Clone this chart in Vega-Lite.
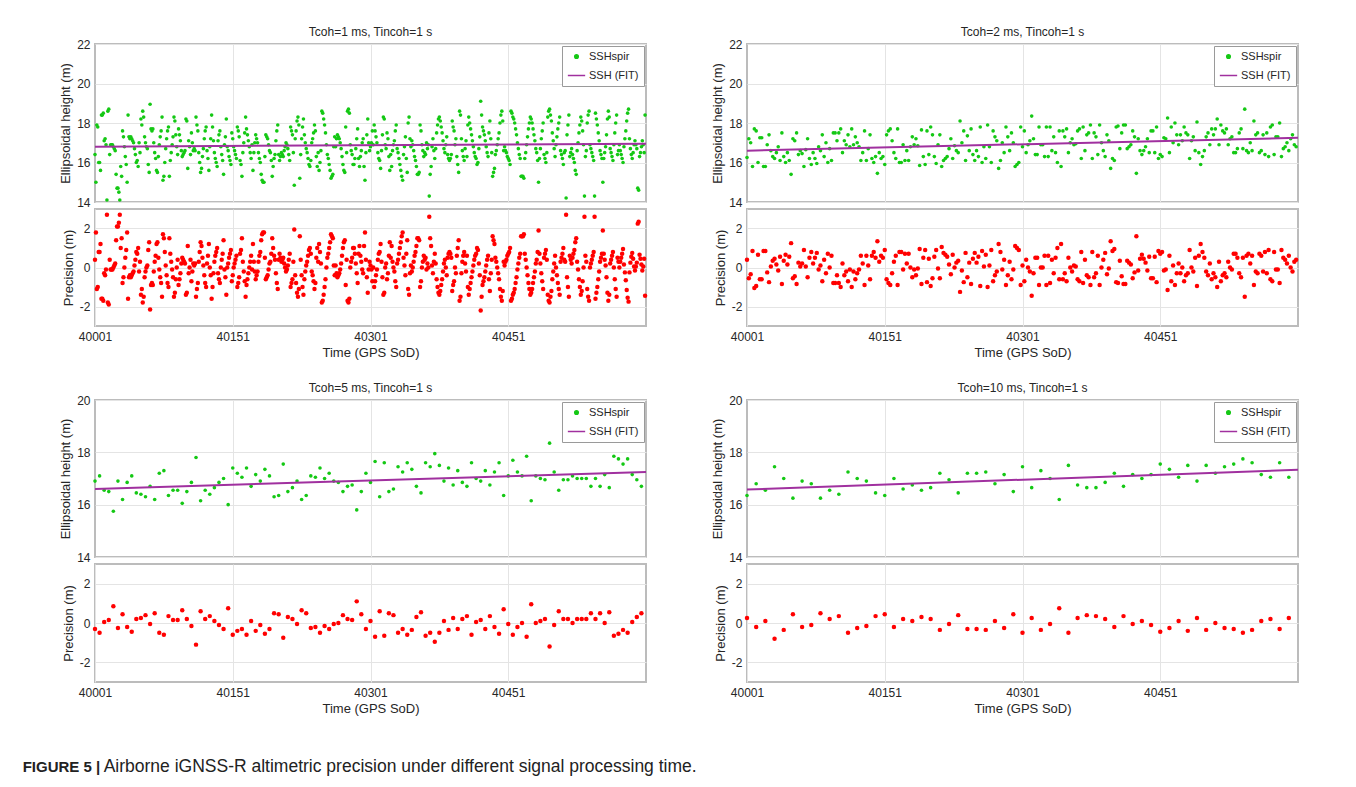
{
"$schema":"https://vega.github.io/schema/vega-lite/v6.json",
"background":"white",
"padding":{"left":22,"top":25,"right":5,"bottom":5},
"config":{
"font":"Liberation Sans",
"view":{"stroke":"#bcbcbc","strokeWidth":2},
"axis":{"labelFont":"Liberation Sans","labelFontSize":12,"labelColor":"#262626","titleFont":"Liberation Sans","titleFontSize":13,"titleFontWeight":"normal","titleColor":"#262626","gridColor":"#e4e4e4","gridWidth":1,"ticks":false,"tickSize":0,"domain":false,"labelPadding":5,"titlePadding":4,"labelFlush":false},
"title":{"font":"Liberation Sans","fontSize":12,"fontWeight":"normal","color":"#262626","offset":-1},
"legend":{"orient":"top-right","offset":2,"padding":5,"strokeColor":"#9a9a9a","fillColor":"#ffffff","labelFont":"Liberation Sans","labelFontSize":11,"labelColor":"#262626","rowPadding":4,"labelOffset":3,"symbolStrokeWidth":1.5}
},
"title":{"text":"FIGURE 5 |","orient":"bottom","anchor":"start","fontSize":15,"fontWeight":"bold","color":"#222222","offset":0,"dy":-15.5,"dx":-36},
"datasets":{
"f1":[{"t":40001,"h":16.8},{"t":40601,"h":16.95}],
"f2":[{"t":40001,"h":16.6},{"t":40601,"h":17.25}],
"f3":[{"t":40001,"h":16.6},{"t":40601,"h":17.25}],
"f4":[{"t":40001,"h":16.58},{"t":40601,"h":17.33}],
"p1":[
{"t":40001,"h":16.4,"p":0.4},{"t":40002,"h":15.0,"p":1.8},{"t":40003,"h":17.9,"p":-1.1},{"t":40004,"h":17.8,"p":-1.0},{"t":40005,"h":16.0,"p":0.8},{"t":40006,"h":16.0,"p":0.8},{"t":40007,"h":15.6,"p":1.2},{"t":40008,"h":18.4,"p":-1.6},{"t":40009,"h":18.4,"p":-1.6},{"t":40010,"h":18.5,"p":-1.7},{"t":40011,"h":17.1,"p":-0.3},{"t":40012,"h":17.2,"p":-0.4},{"t":40013,"h":16.9,"p":-0.1},{"t":40014,"h":14.1,"p":2.7},{"t":40015,"h":18.6,"p":-1.8},{"t":40016,"h":18.7,"p":-1.9},{"t":40017,"h":16.4,"p":0.4},{"t":40018,"h":16.9,"p":-0.1},{"t":40019,"h":16.9,"p":-0.1},{"t":40020,"h":16.9,"p":-0.1},{"t":40021,"h":16.8,"p":0.0},{"t":40022,"h":16.7,"p":0.1},{"t":40023,"h":16.6,"p":0.2},{"t":40024,"h":15.4,"p":1.4},{"t":40025,"h":14.7,"p":2.1},
{"t":40026,"h":14.7,"p":2.1},{"t":40027,"h":14.5,"p":2.3},{"t":40028,"h":14.1,"p":2.7},{"t":40029,"h":15.8,"p":1.0},{"t":40030,"h":15.3,"p":1.5},{"t":40031,"h":17.6,"p":-0.8},{"t":40032,"h":17.3,"p":-0.5},{"t":40033,"h":16.8,"p":0.0},{"t":40034,"h":16.3,"p":0.5},{"t":40035,"h":15.9,"p":0.9},{"t":40036,"h":15.0,"p":1.8},{"t":40037,"h":18.4,"p":-1.6},{"t":40038,"h":17.3,"p":-0.5},{"t":40039,"h":17.2,"p":-0.4},{"t":40040,"h":17.3,"p":-0.5},{"t":40041,"h":17.2,"p":-0.4},{"t":40042,"h":17.1,"p":-0.3},{"t":40043,"h":17.0,"p":-0.2},{"t":40044,"h":16.7,"p":0.1},{"t":40045,"h":16.4,"p":0.4},{"t":40046,"h":16.0,"p":0.8},{"t":40047,"h":16.1,"p":0.7},{"t":40048,"h":15.8,"p":1.0},{"t":40049,"h":17.0,"p":-0.2},{"t":40050,"h":16.5,"p":0.3},
{"t":40051,"h":18.2,"p":-1.4},{"t":40052,"h":17.9,"p":-1.1},{"t":40053,"h":18.6,"p":-1.8},{"t":40054,"h":18.3,"p":-1.5},{"t":40055,"h":17.3,"p":-0.5},{"t":40056,"h":17.0,"p":-0.2},{"t":40057,"h":16.8,"p":0.0},{"t":40058,"h":16.7,"p":0.1},{"t":40059,"h":15.9,"p":0.9},{"t":40060,"h":15.5,"p":1.3},{"t":40061,"h":18.95,"p":-2.15},{"t":40062,"h":17.7,"p":-0.9},{"t":40063,"h":17.6,"p":-0.8},{"t":40064,"h":17.7,"p":-0.9},{"t":40065,"h":17.0,"p":-0.2},{"t":40066,"h":16.5,"p":0.3},{"t":40067,"h":16.2,"p":0.6},{"t":40068,"h":15.6,"p":1.2},{"t":40069,"h":15.5,"p":1.3},{"t":40070,"h":16.3,"p":0.5},{"t":40071,"h":16.9,"p":-0.1},{"t":40072,"h":17.3,"p":-0.5},{"t":40073,"h":17.6,"p":-0.8},{"t":40074,"h":18.3,"p":-1.5},{"t":40075,"h":15.1,"p":1.7},
{"t":40076,"h":15.3,"p":1.5},{"t":40077,"h":16.0,"p":0.8},{"t":40078,"h":16.7,"p":0.1},{"t":40079,"h":17.2,"p":-0.4},{"t":40080,"h":17.6,"p":-0.8},{"t":40081,"h":17.8,"p":-1.0},{"t":40082,"h":15.3,"p":1.5},{"t":40083,"h":16.1,"p":0.7},{"t":40084,"h":16.5,"p":0.3},{"t":40085,"h":16.9,"p":-0.1},{"t":40086,"h":17.3,"p":-0.5},{"t":40087,"h":18.3,"p":-1.5},{"t":40088,"h":18.1,"p":-1.3},{"t":40089,"h":17.4,"p":-0.6},{"t":40090,"h":16.8,"p":0.0},{"t":40091,"h":16.4,"p":0.4},{"t":40092,"h":17.7,"p":-0.9},{"t":40093,"h":17.4,"p":-0.6},{"t":40094,"h":17.1,"p":-0.3},{"t":40095,"h":16.6,"p":0.2},{"t":40096,"h":16.3,"p":0.5},{"t":40097,"h":16.4,"p":0.4},{"t":40098,"h":16.5,"p":0.3},{"t":40099,"h":16.6,"p":0.2},{"t":40100,"h":18.2,"p":-1.4},
{"t":40101,"h":18.1,"p":-1.3},{"t":40102,"h":15.7,"p":1.1},{"t":40103,"h":17.1,"p":-0.3},{"t":40104,"h":16.8,"p":0.0},{"t":40105,"h":16.4,"p":0.4},{"t":40106,"h":17.5,"p":-0.7},{"t":40107,"h":17.0,"p":-0.2},{"t":40108,"h":16.6,"p":0.2},{"t":40109,"h":16.7,"p":0.1},{"t":40110,"h":16.6,"p":0.2},{"t":40111,"h":18.3,"p":-1.5},{"t":40112,"h":17.9,"p":-1.1},{"t":40113,"h":17.6,"p":-0.8},{"t":40114,"h":16.5,"p":0.3},{"t":40115,"h":16.0,"p":0.8},{"t":40116,"h":15.5,"p":1.3},{"t":40117,"h":15.7,"p":1.1},{"t":40118,"h":16.3,"p":0.5},{"t":40119,"h":16.7,"p":0.1},{"t":40120,"h":17.2,"p":-0.4},{"t":40121,"h":17.6,"p":-0.8},{"t":40122,"h":17.8,"p":-1.0},{"t":40123,"h":16.6,"p":0.2},{"t":40124,"h":16.2,"p":0.6},{"t":40125,"h":15.6,"p":1.2},
{"t":40126,"h":16.8,"p":0.0},{"t":40127,"h":17.2,"p":-0.4},{"t":40128,"h":18.4,"p":-1.6},{"t":40129,"h":17.8,"p":-1.0},{"t":40130,"h":17.1,"p":-0.3},{"t":40131,"h":16.5,"p":0.3},{"t":40132,"h":16.2,"p":0.6},{"t":40133,"h":16.0,"p":0.8},{"t":40134,"h":15.8,"p":1.0},{"t":40135,"h":17.1,"p":-0.3},{"t":40136,"h":17.4,"p":-0.6},{"t":40137,"h":17.6,"p":-0.8},{"t":40138,"h":16.8,"p":0.0},{"t":40139,"h":16.4,"p":0.4},{"t":40140,"h":16.1,"p":0.7},{"t":40141,"h":15.4,"p":1.4},{"t":40142,"h":16.9,"p":-0.1},{"t":40143,"h":17.3,"p":-0.5},{"t":40144,"h":18.2,"p":-1.4},{"t":40145,"h":16.8,"p":0.0},{"t":40146,"h":16.6,"p":0.2},{"t":40147,"h":16.3,"p":0.5},{"t":40148,"h":16.1,"p":0.7},{"t":40149,"h":15.9,"p":0.9},{"t":40150,"h":17.5,"p":-0.7},
{"t":40151,"h":17.2,"p":-0.4},{"t":40152,"h":16.8,"p":0.0},{"t":40153,"h":16.6,"p":0.2},{"t":40154,"h":16.4,"p":0.4},{"t":40155,"h":16.2,"p":0.6},{"t":40156,"h":17.8,"p":-1.0},{"t":40157,"h":17.6,"p":-0.8},{"t":40158,"h":17.3,"p":-0.5},{"t":40159,"h":16.1,"p":0.7},{"t":40160,"h":15.9,"p":0.9},{"t":40161,"h":15.3,"p":1.5},{"t":40162,"h":16.5,"p":0.3},{"t":40163,"h":17.0,"p":-0.2},{"t":40164,"h":17.5,"p":-0.7},{"t":40165,"h":18.3,"p":-1.5},{"t":40166,"h":17.7,"p":-0.9},{"t":40167,"h":17.4,"p":-0.6},{"t":40168,"h":17.1,"p":-0.3},{"t":40169,"h":16.8,"p":0.0},{"t":40170,"h":16.5,"p":0.3},{"t":40171,"h":16.2,"p":0.6},{"t":40172,"h":16.9,"p":-0.1},{"t":40173,"h":15.6,"p":1.2},{"t":40174,"h":16.5,"p":0.3},{"t":40175,"h":17.0,"p":-0.2},
{"t":40176,"h":17.4,"p":-0.6},{"t":40177,"h":17.2,"p":-0.4},{"t":40178,"h":17.0,"p":-0.2},{"t":40179,"h":16.5,"p":0.3},{"t":40180,"h":16.2,"p":0.6},{"t":40181,"h":16.0,"p":0.8},{"t":40182,"h":15.4,"p":1.4},{"t":40183,"h":15.1,"p":1.7},{"t":40184,"h":15.0,"p":1.8},{"t":40185,"h":15.0,"p":1.8},{"t":40186,"h":16.3,"p":0.5},{"t":40187,"h":17.4,"p":-0.6},{"t":40188,"h":17.3,"p":-0.5},{"t":40189,"h":17.2,"p":-0.4},{"t":40190,"h":16.9,"p":-0.1},{"t":40191,"h":16.6,"p":0.2},{"t":40192,"h":16.5,"p":0.3},{"t":40193,"h":16.1,"p":0.7},{"t":40194,"h":15.3,"p":1.5},{"t":40195,"h":15.8,"p":1.0},{"t":40196,"h":16.2,"p":0.6},{"t":40197,"h":16.4,"p":0.4},{"t":40198,"h":17.1,"p":-0.3},{"t":40199,"h":17.6,"p":-0.8},{"t":40200,"h":17.9,"p":-1.1},
{"t":40201,"h":16.4,"p":0.4},{"t":40202,"h":16.1,"p":0.7},{"t":40203,"h":16.3,"p":0.5},{"t":40204,"h":16.5,"p":0.3},{"t":40205,"h":16.4,"p":0.4},{"t":40206,"h":16.3,"p":0.5},{"t":40207,"h":16.6,"p":0.2},{"t":40208,"h":16.8,"p":0.0},{"t":40209,"h":17.0,"p":-0.2},{"t":40210,"h":16.9,"p":-0.1},{"t":40211,"h":16.7,"p":0.1},{"t":40212,"h":16.4,"p":0.4},{"t":40213,"h":16.1,"p":0.7},{"t":40214,"h":17.8,"p":-1.0},{"t":40215,"h":17.6,"p":-0.8},{"t":40216,"h":17.4,"p":-0.6},{"t":40217,"h":16.5,"p":0.3},{"t":40218,"h":14.85,"p":1.95},{"t":40219,"h":17.2,"p":-0.4},{"t":40220,"h":17.6,"p":-0.8},{"t":40221,"h":18.1,"p":-1.3},{"t":40222,"h":18.3,"p":-1.5},{"t":40223,"h":17.9,"p":-1.1},{"t":40224,"h":15.2,"p":1.6},{"t":40225,"h":16.4,"p":0.4},
{"t":40226,"h":17.2,"p":-0.4},{"t":40227,"h":17.8,"p":-1.0},{"t":40228,"h":18.2,"p":-1.4},{"t":40229,"h":17.4,"p":-0.6},{"t":40230,"h":17.0,"p":-0.2},{"t":40231,"h":16.7,"p":0.1},{"t":40232,"h":16.5,"p":0.3},{"t":40233,"h":16.2,"p":0.6},{"t":40234,"h":15.9,"p":0.9},{"t":40235,"h":15.8,"p":1.0},{"t":40236,"h":16.1,"p":0.7},{"t":40237,"h":17.0,"p":-0.2},{"t":40238,"h":17.2,"p":-0.4},{"t":40239,"h":17.5,"p":-0.7},{"t":40240,"h":17.9,"p":-1.1},{"t":40241,"h":17.6,"p":-0.8},{"t":40242,"h":16.3,"p":0.5},{"t":40243,"h":15.8,"p":1.0},{"t":40244,"h":16.5,"p":0.3},{"t":40245,"h":15.6,"p":1.2},{"t":40246,"h":16.0,"p":0.8},{"t":40247,"h":16.6,"p":0.2},{"t":40248,"h":18.6,"p":-1.8},{"t":40249,"h":18.5,"p":-1.7},{"t":40250,"h":18.2,"p":-1.4},
{"t":40251,"h":17.9,"p":-1.0},{"t":40252,"h":17.5,"p":-0.6},{"t":40253,"h":16.9,"p":0.0},{"t":40254,"h":16.4,"p":0.5},{"t":40255,"h":16.2,"p":0.7},{"t":40256,"h":15.9,"p":1.0},{"t":40257,"h":15.6,"p":1.3},{"t":40258,"h":15.2,"p":1.7},{"t":40259,"h":15.3,"p":1.6},{"t":40260,"h":15.4,"p":1.5},{"t":40261,"h":16.8,"p":0.1},{"t":40262,"h":17.3,"p":-0.4},{"t":40263,"h":16.8,"p":0.1},{"t":40264,"h":17.2,"p":-0.3},{"t":40265,"h":17.4,"p":-0.5},{"t":40266,"h":17.3,"p":-0.4},{"t":40267,"h":17.2,"p":-0.3},{"t":40268,"h":17.0,"p":-0.1},{"t":40269,"h":16.7,"p":0.2},{"t":40270,"h":16.3,"p":0.6},{"t":40271,"h":15.9,"p":1.0},{"t":40272,"h":15.6,"p":1.3},{"t":40273,"h":15.5,"p":1.4},{"t":40274,"h":17.8,"p":-0.9},{"t":40275,"h":16.5,"p":0.4},
{"t":40276,"h":18.6,"p":-1.7},{"t":40277,"h":18.7,"p":-1.8},{"t":40278,"h":18.5,"p":-1.6},{"t":40279,"h":16.9,"p":0.0},{"t":40280,"h":16.6,"p":0.3},{"t":40281,"h":16.4,"p":0.5},{"t":40282,"h":15.9,"p":1.0},{"t":40283,"h":15.9,"p":1.0},{"t":40284,"h":16.2,"p":0.7},{"t":40285,"h":16.7,"p":0.2},{"t":40286,"h":17.2,"p":-0.3},{"t":40287,"h":17.7,"p":-0.8},{"t":40288,"h":16.2,"p":0.7},{"t":40289,"h":15.8,"p":1.1},{"t":40290,"h":16.3,"p":0.6},{"t":40291,"h":16.6,"p":0.3},{"t":40292,"h":17.0,"p":-0.1},{"t":40293,"h":17.2,"p":-0.3},{"t":40294,"h":15.8,"p":1.1},{"t":40295,"h":15.1,"p":1.8},{"t":40296,"h":16.5,"p":0.4},{"t":40297,"h":17.4,"p":-0.5},{"t":40298,"h":18.2,"p":-1.3},{"t":40299,"h":17.0,"p":-0.1},{"t":40300,"h":16.6,"p":0.3},
{"t":40301,"h":16.8,"p":0.1},{"t":40302,"h":17.0,"p":-0.1},{"t":40303,"h":17.6,"p":-0.7},{"t":40304,"h":16.9,"p":0.0},{"t":40305,"h":17.9,"p":-1.0},{"t":40306,"h":17.6,"p":-0.7},{"t":40307,"h":17.3,"p":-0.4},{"t":40308,"h":17.0,"p":-0.1},{"t":40309,"h":16.5,"p":0.4},{"t":40310,"h":16.2,"p":0.7},{"t":40311,"h":16.1,"p":0.8},{"t":40312,"h":15.7,"p":1.2},{"t":40313,"h":16.6,"p":0.3},{"t":40314,"h":17.4,"p":-0.5},{"t":40315,"h":18.3,"p":-1.4},{"t":40316,"h":18.2,"p":-1.3},{"t":40317,"h":16.9,"p":0.0},{"t":40318,"h":16.7,"p":0.2},{"t":40319,"h":17.5,"p":-0.6},{"t":40320,"h":17.2,"p":-0.3},{"t":40321,"h":16.3,"p":0.6},{"t":40322,"h":15.6,"p":1.3},{"t":40323,"h":16.4,"p":0.5},{"t":40324,"h":15.8,"p":1.1},{"t":40325,"h":16.6,"p":0.3},
{"t":40326,"h":16.9,"p":0.0},{"t":40327,"h":17.1,"p":-0.2},{"t":40328,"h":17.6,"p":-0.7},{"t":40329,"h":17.9,"p":-1.0},{"t":40330,"h":16.7,"p":0.2},{"t":40331,"h":16.5,"p":0.4},{"t":40332,"h":16.2,"p":0.7},{"t":40333,"h":15.9,"p":1.0},{"t":40334,"h":15.6,"p":1.3},{"t":40335,"h":15.3,"p":1.6},{"t":40336,"h":15.1,"p":1.8},{"t":40337,"h":16.4,"p":0.5},{"t":40338,"h":16.8,"p":0.1},{"t":40339,"h":17.3,"p":-0.4},{"t":40340,"h":16.2,"p":0.7},{"t":40341,"h":15.5,"p":1.4},{"t":40342,"h":18.0,"p":-1.1},{"t":40343,"h":18.3,"p":-1.4},{"t":40344,"h":17.2,"p":-0.3},{"t":40345,"h":16.8,"p":0.1},{"t":40346,"h":17.1,"p":-0.2},{"t":40347,"h":16.9,"p":0.0},{"t":40348,"h":16.6,"p":0.3},{"t":40349,"h":16.3,"p":0.6},{"t":40350,"h":16.1,"p":0.8},
{"t":40351,"h":15.8,"p":1.1},{"t":40352,"h":15.4,"p":1.5},{"t":40353,"h":15.4,"p":1.5},{"t":40354,"h":15.5,"p":1.4},{"t":40355,"h":17.9,"p":-1.0},{"t":40356,"h":17.6,"p":-0.7},{"t":40357,"h":16.9,"p":0.0},{"t":40358,"h":16.6,"p":0.3},{"t":40359,"h":16.3,"p":0.6},{"t":40360,"h":16.5,"p":0.4},{"t":40361,"h":16.4,"p":0.5},{"t":40362,"h":17.0,"p":-0.1},{"t":40363,"h":16.7,"p":0.2},{"t":40364,"h":16.9,"p":0.0},{"t":40365,"h":14.3,"p":2.6},{"t":40366,"h":15.4,"p":1.5},{"t":40367,"h":15.8,"p":1.1},{"t":40368,"h":16.8,"p":0.1},{"t":40369,"h":17.2,"p":-0.3},{"t":40370,"h":16.6,"p":0.3},{"t":40371,"h":16.2,"p":0.7},{"t":40372,"h":16.7,"p":0.2},{"t":40373,"h":17.5,"p":-0.6},{"t":40374,"h":17.9,"p":-1.0},{"t":40375,"h":18.2,"p":-1.3},
{"t":40376,"h":18.3,"p":-1.4},{"t":40377,"h":18.1,"p":-1.2},{"t":40378,"h":17.8,"p":-0.9},{"t":40379,"h":17.5,"p":-0.6},{"t":40380,"h":17.1,"p":-0.2},{"t":40381,"h":16.7,"p":0.2},{"t":40382,"h":16.5,"p":0.4},{"t":40383,"h":16.9,"p":0.0},{"t":40384,"h":17.3,"p":-0.4},{"t":40385,"h":16.4,"p":0.5},{"t":40386,"h":16.2,"p":0.7},{"t":40387,"h":16.1,"p":0.8},{"t":40388,"h":16.2,"p":0.7},{"t":40389,"h":16.4,"p":0.5},{"t":40390,"h":18.1,"p":-1.2},{"t":40391,"h":17.8,"p":-0.9},{"t":40392,"h":17.6,"p":-0.7},{"t":40393,"h":16.9,"p":0.0},{"t":40394,"h":17.2,"p":-0.3},{"t":40395,"h":16.3,"p":0.6},{"t":40396,"h":15.9,"p":1.0},{"t":40397,"h":15.5,"p":1.4},{"t":40398,"h":18.6,"p":-1.7},{"t":40399,"h":18.4,"p":-1.5},{"t":40400,"h":17.2,"p":-0.3},
{"t":40401,"h":16.6,"p":0.3},{"t":40402,"h":16.3,"p":0.6},{"t":40403,"h":16.1,"p":0.8},{"t":40404,"h":16.7,"p":0.2},{"t":40405,"h":17.1,"p":-0.2},{"t":40406,"h":16.3,"p":0.6},{"t":40407,"h":17.9,"p":-1.0},{"t":40408,"h":18.3,"p":-1.4},{"t":40409,"h":18.0,"p":-1.1},{"t":40410,"h":17.7,"p":-0.8},{"t":40411,"h":17.4,"p":-0.5},{"t":40412,"h":17.1,"p":-0.2},{"t":40413,"h":16.8,"p":0.1},{"t":40414,"h":16.5,"p":0.4},{"t":40415,"h":16.3,"p":0.6},{"t":40416,"h":16.2,"p":0.7},{"t":40417,"h":15.9,"p":1.0},{"t":40418,"h":16.0,"p":0.9},{"t":40419,"h":16.7,"p":0.2},{"t":40420,"h":17.3,"p":-0.4},{"t":40421,"h":19.1,"p":-2.2},{"t":40422,"h":18.4,"p":-1.5},{"t":40423,"h":17.8,"p":-0.9},{"t":40424,"h":17.6,"p":-0.7},{"t":40425,"h":17.4,"p":-0.5},
{"t":40426,"h":17.1,"p":-0.2},{"t":40427,"h":16.8,"p":0.1},{"t":40428,"h":16.5,"p":0.4},{"t":40429,"h":16.3,"p":0.6},{"t":40430,"h":17.5,"p":-0.6},{"t":40431,"h":18.1,"p":-1.2},{"t":40432,"h":17.2,"p":-0.3},{"t":40433,"h":16.5,"p":0.4},{"t":40434,"h":15.3,"p":1.6},{"t":40435,"h":15.5,"p":1.4},{"t":40436,"h":15.7,"p":1.2},{"t":40437,"h":16.4,"p":0.5},{"t":40438,"h":16.6,"p":0.3},{"t":40439,"h":16.9,"p":0.0},{"t":40440,"h":17.2,"p":-0.3},{"t":40441,"h":17.5,"p":-0.6},{"t":40442,"h":18.0,"p":-1.1},{"t":40443,"h":18.4,"p":-1.5},{"t":40444,"h":18.6,"p":-1.7},{"t":40445,"h":18.1,"p":-1.2},{"t":40446,"h":16.6,"p":0.3},{"t":40447,"h":16.8,"p":0.1},{"t":40448,"h":16.6,"p":0.3},{"t":40449,"h":16.5,"p":0.4},{"t":40450,"h":16.3,"p":0.6},
{"t":40451,"h":16.2,"p":0.7},{"t":40452,"h":16.1,"p":0.8},{"t":40453,"h":15.9,"p":1.0},{"t":40454,"h":18.6,"p":-1.7},{"t":40455,"h":18.5,"p":-1.6},{"t":40456,"h":18.3,"p":-1.4},{"t":40457,"h":18.2,"p":-1.3},{"t":40458,"h":18.0,"p":-1.1},{"t":40459,"h":17.7,"p":-0.8},{"t":40460,"h":17.4,"p":-0.5},{"t":40461,"h":17.0,"p":-0.1},{"t":40462,"h":16.7,"p":0.2},{"t":40463,"h":16.4,"p":0.5},{"t":40464,"h":16.2,"p":0.7},{"t":40465,"h":15.3,"p":1.6},{"t":40466,"h":15.3,"p":1.6},{"t":40467,"h":15.3,"p":1.6},{"t":40468,"h":15.2,"p":1.7},{"t":40469,"h":16.2,"p":0.7},{"t":40470,"h":16.5,"p":0.4},{"t":40471,"h":16.9,"p":0.0},{"t":40472,"h":17.3,"p":-0.4},{"t":40473,"h":17.7,"p":-0.8},{"t":40474,"h":18.0,"p":-1.1},{"t":40475,"h":18.3,"p":-1.4},
{"t":40476,"h":18.2,"p":-1.3},{"t":40477,"h":18.0,"p":-1.1},{"t":40478,"h":17.7,"p":-0.8},{"t":40479,"h":17.4,"p":-0.5},{"t":40480,"h":17.1,"p":-0.2},{"t":40481,"h":16.7,"p":0.2},{"t":40482,"h":16.5,"p":0.4},{"t":40483,"h":16.1,"p":0.8},{"t":40484,"h":15.0,"p":1.9},{"t":40485,"h":16.2,"p":0.7},{"t":40486,"h":16.7,"p":0.2},{"t":40487,"h":17.2,"p":-0.3},{"t":40488,"h":17.6,"p":-0.7},{"t":40489,"h":18.0,"p":-1.1},{"t":40490,"h":16.4,"p":0.5},{"t":40491,"h":16.2,"p":0.7},{"t":40492,"h":16.0,"p":0.9},{"t":40493,"h":16.5,"p":0.4},{"t":40494,"h":18.3,"p":-1.4},{"t":40495,"h":18.6,"p":-1.7},{"t":40496,"h":18.7,"p":-1.8},{"t":40497,"h":18.4,"p":-1.5},{"t":40498,"h":18.1,"p":-1.2},{"t":40499,"h":17.5,"p":-0.6},{"t":40500,"h":17.1,"p":-0.2},
{"t":40501,"h":16.7,"p":0.2},{"t":40502,"h":16.3,"p":0.6},{"t":40503,"h":16.9,"p":0.0},{"t":40504,"h":17.3,"p":-0.4},{"t":40505,"h":17.7,"p":-0.8},{"t":40506,"h":18.0,"p":-1.1},{"t":40507,"h":18.3,"p":-1.4},{"t":40508,"h":16.6,"p":0.3},{"t":40509,"h":16.4,"p":0.5},{"t":40510,"h":16.2,"p":0.7},{"t":40511,"h":15.9,"p":1.0},{"t":40512,"h":16.5,"p":0.4},{"t":40513,"h":16.6,"p":0.3},{"t":40514,"h":14.2,"p":2.7},{"t":40515,"h":17.4,"p":-0.5},{"t":40516,"h":17.9,"p":-1.0},{"t":40517,"h":18.4,"p":-1.5},{"t":40518,"h":16.3,"p":0.6},{"t":40519,"h":16.5,"p":0.4},{"t":40520,"h":16.7,"p":0.2},{"t":40521,"h":16.4,"p":0.5},{"t":40522,"h":16.2,"p":0.7},{"t":40523,"h":16.0,"p":0.9},{"t":40524,"h":15.6,"p":1.3},{"t":40525,"h":15.4,"p":1.5},
{"t":40526,"h":16.6,"p":0.3},{"t":40527,"h":17.0,"p":-0.1},{"t":40528,"h":17.5,"p":-0.6},{"t":40529,"h":17.9,"p":-1.0},{"t":40530,"h":18.3,"p":-1.4},{"t":40531,"h":18.1,"p":-1.2},{"t":40532,"h":17.6,"p":-0.7},{"t":40533,"h":16.9,"p":0.0},{"t":40534,"h":14.3,"p":2.6},{"t":40535,"h":16.3,"p":0.6},{"t":40536,"h":16.6,"p":0.3},{"t":40537,"h":18.0,"p":-1.1},{"t":40538,"h":18.4,"p":-1.5},{"t":40539,"h":18.6,"p":-1.7},{"t":40540,"h":16.9,"p":0.0},{"t":40541,"h":16.7,"p":0.2},{"t":40542,"h":16.5,"p":0.4},{"t":40543,"h":16.3,"p":0.6},{"t":40544,"h":16.1,"p":0.8},{"t":40545,"h":14.3,"p":2.6},{"t":40546,"h":18.5,"p":-1.6},{"t":40547,"h":18.2,"p":-1.3},{"t":40548,"h":17.9,"p":-1.0},{"t":40549,"h":17.5,"p":-0.6},{"t":40550,"h":17.1,"p":-0.2},
{"t":40551,"h":16.6,"p":0.3},{"t":40552,"h":16.4,"p":0.5},{"t":40553,"h":16.2,"p":0.7},{"t":40554,"h":15.0,"p":1.9},{"t":40555,"h":16.2,"p":0.7},{"t":40556,"h":16.5,"p":0.4},{"t":40557,"h":16.8,"p":0.1},{"t":40558,"h":17.4,"p":-0.5},{"t":40559,"h":18.2,"p":-1.3},{"t":40560,"h":18.6,"p":-1.7},{"t":40561,"h":18.3,"p":-1.4},{"t":40562,"h":16.7,"p":0.2},{"t":40563,"h":16.5,"p":0.4},{"t":40564,"h":16.3,"p":0.6},{"t":40565,"h":16.1,"p":0.8},{"t":40566,"h":16.9,"p":0.0},{"t":40567,"h":17.5,"p":-0.6},{"t":40568,"h":18.0,"p":-1.1},{"t":40569,"h":18.4,"p":-1.5},{"t":40570,"h":16.4,"p":0.5},{"t":40571,"h":16.6,"p":0.3},{"t":40572,"h":16.9,"p":0.0},{"t":40573,"h":16.6,"p":0.3},{"t":40574,"h":16.4,"p":0.5},{"t":40575,"h":16.2,"p":0.7},
{"t":40576,"h":16.0,"p":0.95},{"t":40577,"h":16.8,"p":0.15},{"t":40578,"h":17.2,"p":-0.25},{"t":40579,"h":17.6,"p":-0.65},{"t":40580,"h":18.1,"p":-1.15},{"t":40581,"h":18.5,"p":-1.55},{"t":40582,"h":18.7,"p":-1.75},{"t":40583,"h":17.2,"p":-0.25},{"t":40584,"h":16.7,"p":0.25},{"t":40585,"h":16.4,"p":0.55},{"t":40586,"h":16.2,"p":0.75},{"t":40587,"h":16.5,"p":0.45},{"t":40588,"h":16.9,"p":0.05},{"t":40589,"h":17.1,"p":-0.15},{"t":40590,"h":16.9,"p":0.05},{"t":40591,"h":16.7,"p":0.25},{"t":40592,"h":14.7,"p":2.25},{"t":40593,"h":14.6,"p":2.35},{"t":40594,"h":16.3,"p":0.65},{"t":40595,"h":16.5,"p":0.45},{"t":40596,"h":16.8,"p":0.15},{"t":40597,"h":17.1,"p":-0.15},{"t":40598,"h":16.9,"p":0.05},{"t":40599,"h":16.5,"p":0.45},{"t":40600,"h":18.4,"p":-1.45}
],
"p2":[
{"t":40001,"h":16.25,"p":0.4},{"t":40003,"h":17.2,"p":-0.55},{"t":40005,"h":17.0,"p":-0.35},{"t":40007,"h":15.8,"p":0.85},{"t":40009,"h":17.7,"p":-1.05},{"t":40011,"h":17.6,"p":-0.95},{"t":40013,"h":16.0,"p":0.65},{"t":40015,"h":17.25,"p":-0.6},{"t":40017,"h":17.25,"p":-0.6},{"t":40019,"h":15.8,"p":0.85},{"t":40021,"h":15.8,"p":0.85},{"t":40023,"h":16.9,"p":-0.25},{"t":40025,"h":17.4,"p":-0.75},{"t":40027,"h":16.6,"p":0.05},{"t":40029,"h":16.3,"p":0.35},{"t":40031,"h":16.2,"p":0.45},{"t":40033,"h":16.5,"p":0.15},{"t":40035,"h":16.8,"p":-0.15},{"t":40037,"h":16.1,"p":0.55},{"t":40039,"h":17.5,"p":-0.85},{"t":40041,"h":16.3,"p":0.35},{"t":40043,"h":16.0,"p":0.65},{"t":40045,"h":16.5,"p":0.15},{"t":40047,"h":16.1,"p":0.55},{"t":40049,"h":15.4,"p":1.25},{"t":40051,"h":17.2,"p":-0.55},{"t":40053,"h":17.1,"p":-0.45},{"t":40055,"h":17.5,"p":-0.85},{"t":40057,"h":16.4,"p":0.25},{"t":40059,"h":16.6,"p":0.05},{"t":40061,"h":16.45,"p":0.2},
{"t":40063,"h":15.8,"p":0.9},{"t":40065,"h":16.65,"p":0.05},{"t":40067,"h":17.2,"p":-0.5},{"t":40069,"h":16.2,"p":0.5},{"t":40071,"h":15.9,"p":0.8},{"t":40073,"h":16.5,"p":0.2},{"t":40075,"h":16.2,"p":0.5},{"t":40077,"h":15.95,"p":0.75},{"t":40079,"h":16.8,"p":-0.1},{"t":40081,"h":16.6,"p":0.1},{"t":40083,"h":17.4,"p":-0.7},{"t":40085,"h":16.3,"p":0.4},{"t":40087,"h":17.0,"p":-0.3},{"t":40089,"h":16.0,"p":0.7},{"t":40091,"h":16.7,"p":0.0},{"t":40093,"h":16.1,"p":0.6},{"t":40095,"h":17.5,"p":-0.8},{"t":40097,"h":17.5,"p":-0.8},{"t":40099,"h":17.1,"p":-0.4},{"t":40101,"h":17.5,"p":-0.8},{"t":40103,"h":17.7,"p":-1.0},{"t":40105,"h":16.5,"p":0.2},{"t":40107,"h":17.1,"p":-0.4},{"t":40109,"h":16.9,"p":-0.2},{"t":40111,"h":17.4,"p":-0.7},{"t":40113,"h":16.8,"p":-0.1},{"t":40115,"h":17.7,"p":-1.0},{"t":40117,"h":16.9,"p":-0.2},{"t":40119,"h":17.3,"p":-0.6},{"t":40121,"h":17.0,"p":-0.3},{"t":40123,"h":16.8,"p":-0.1},{"t":40125,"h":16.1,"p":0.6},{"t":40127,"h":16.5,"p":0.2},{"t":40129,"h":17.6,"p":-0.9},{"t":40131,"h":16.1,"p":0.6},
{"t":40133,"h":16.7,"p":0.1},{"t":40135,"h":17.4,"p":-0.6},{"t":40137,"h":16.2,"p":0.6},{"t":40139,"h":16.0,"p":0.8},{"t":40141,"h":16.3,"p":0.5},{"t":40143,"h":15.45,"p":1.35},{"t":40145,"h":16.5,"p":0.3},{"t":40147,"h":16.2,"p":0.6},{"t":40149,"h":16.3,"p":0.5},{"t":40151,"h":15.9,"p":0.9},{"t":40153,"h":17.4,"p":-0.6},{"t":40155,"h":17.6,"p":-0.8},{"t":40157,"h":17.7,"p":-0.9},{"t":40159,"h":17.1,"p":-0.3},{"t":40161,"h":16.5,"p":0.3},{"t":40163,"h":16.2,"p":0.6},{"t":40165,"h":17.7,"p":-0.9},{"t":40167,"h":16.0,"p":0.8},{"t":40169,"h":16.0,"p":0.8},{"t":40171,"h":16.9,"p":-0.1},{"t":40173,"h":16.1,"p":0.7},{"t":40175,"h":16.6,"p":0.2},{"t":40177,"h":16.1,"p":0.7},{"t":40179,"h":16.8,"p":0.0},{"t":40181,"h":17.3,"p":-0.5},{"t":40183,"h":16.9,"p":-0.1},{"t":40185,"h":17.2,"p":-0.4},{"t":40187,"h":16.85,"p":-0.05},{"t":40189,"h":15.85,"p":0.95},{"t":40191,"h":17.65,"p":-0.85},{"t":40193,"h":16.3,"p":0.5},{"t":40195,"h":15.9,"p":0.9},
{"t":40197,"h":17.6,"p":-0.75},{"t":40199,"h":16.4,"p":0.45},{"t":40201,"h":17.8,"p":-0.95},{"t":40203,"h":17.4,"p":-0.55},{"t":40205,"h":16.3,"p":0.55},{"t":40207,"h":15.95,"p":0.9},{"t":40209,"h":16.9,"p":-0.05},{"t":40211,"h":17.4,"p":-0.55},{"t":40213,"h":15.8,"p":1.05},{"t":40215,"h":16.1,"p":0.75},{"t":40217,"h":16.2,"p":0.65},{"t":40219,"h":16.3,"p":0.55},{"t":40221,"h":16.7,"p":0.15},{"t":40223,"h":17.2,"p":-0.35},{"t":40225,"h":16.2,"p":0.65},{"t":40227,"h":16.85,"p":0.0},{"t":40229,"h":16.6,"p":0.25},{"t":40231,"h":16.5,"p":0.35},{"t":40233,"h":18.1,"p":-1.25},{"t":40235,"h":17.0,"p":-0.15},{"t":40237,"h":17.6,"p":-0.75},{"t":40239,"h":16.1,"p":0.75},{"t":40241,"h":17.35,"p":-0.5},{"t":40243,"h":16.6,"p":0.25},{"t":40245,"h":17.7,"p":-0.85},{"t":40247,"h":16.4,"p":0.45},{"t":40249,"h":16.1,"p":0.75},{"t":40251,"h":16.6,"p":0.25},{"t":40253,"h":16.3,"p":0.55},{"t":40255,"h":17.8,"p":-0.95},{"t":40257,"h":16.0,"p":0.85},{"t":40259,"h":16.8,"p":0.05},{"t":40261,"h":16.2,"p":0.65},
{"t":40263,"h":17.9,"p":-1.0},{"t":40265,"h":16.8,"p":0.1},{"t":40267,"h":16.0,"p":0.9},{"t":40269,"h":17.6,"p":-0.7},{"t":40271,"h":17.3,"p":-0.4},{"t":40273,"h":17.1,"p":-0.2},{"t":40275,"h":15.7,"p":1.2},{"t":40277,"h":16.1,"p":0.8},{"t":40279,"h":17.0,"p":-0.1},{"t":40281,"h":16.5,"p":0.4},{"t":40283,"h":17.8,"p":-0.9},{"t":40285,"h":17.3,"p":-0.4},{"t":40287,"h":16.6,"p":0.3},{"t":40289,"h":17.5,"p":-0.6},{"t":40291,"h":17.0,"p":-0.1},{"t":40293,"h":15.8,"p":1.1},{"t":40295,"h":15.9,"p":1.0},{"t":40297,"h":16.0,"p":0.9},{"t":40299,"h":17.8,"p":-0.9},{"t":40301,"h":16.8,"p":0.1},{"t":40303,"h":17.6,"p":-0.7},{"t":40305,"h":16.5,"p":0.4},{"t":40307,"h":16.9,"p":0.0},{"t":40309,"h":17.1,"p":-0.2},{"t":40311,"h":18.35,"p":-1.45},{"t":40313,"h":17.2,"p":-0.3},{"t":40315,"h":16.4,"p":0.5},{"t":40317,"h":16.4,"p":0.5},{"t":40319,"h":17.8,"p":-0.9},{"t":40321,"h":16.9,"p":0.0},{"t":40323,"h":16.9,"p":0.0},{"t":40325,"h":16.3,"p":0.6},{"t":40327,"h":17.8,"p":-0.9},{"t":40329,"h":16.3,"p":0.6},
{"t":40331,"h":17.8,"p":-0.8},{"t":40333,"h":16.6,"p":0.4},{"t":40335,"h":17.3,"p":-0.3},{"t":40337,"h":16.5,"p":0.5},{"t":40339,"h":16.0,"p":1.0},{"t":40341,"h":17.6,"p":-0.6},{"t":40343,"h":15.8,"p":1.2},{"t":40345,"h":17.6,"p":-0.6},{"t":40347,"h":17.3,"p":-0.3},{"t":40349,"h":17.7,"p":-0.7},{"t":40351,"h":16.5,"p":0.5},{"t":40353,"h":17.0,"p":0.0},{"t":40355,"h":17.2,"p":-0.2},{"t":40357,"h":16.9,"p":0.1},{"t":40359,"h":16.95,"p":0.05},{"t":40361,"h":17.6,"p":-0.6},{"t":40363,"h":17.7,"p":-0.7},{"t":40365,"h":16.2,"p":0.8},{"t":40367,"h":17.8,"p":-0.8},{"t":40369,"h":16.6,"p":0.4},{"t":40371,"h":17.4,"p":-0.4},{"t":40373,"h":17.5,"p":-0.5},{"t":40375,"h":17.9,"p":-0.9},{"t":40377,"h":16.2,"p":0.8},{"t":40379,"h":17.5,"p":-0.5},{"t":40381,"h":17.3,"p":-0.3},{"t":40383,"h":16.4,"p":0.6},{"t":40385,"h":17.9,"p":-0.9},{"t":40387,"h":17.0,"p":0.0},{"t":40389,"h":16.6,"p":0.4},
{"t":40391,"h":16.3,"p":0.75},{"t":40393,"h":17.4,"p":-0.35},{"t":40395,"h":17.1,"p":-0.05},{"t":40397,"h":15.7,"p":1.35},{"t":40399,"h":16.2,"p":0.85},{"t":40401,"h":16.1,"p":0.95},{"t":40403,"h":17.8,"p":-0.75},{"t":40405,"h":17.85,"p":-0.8},{"t":40407,"h":16.7,"p":0.35},{"t":40409,"h":17.5,"p":-0.45},{"t":40411,"h":17.9,"p":-0.85},{"t":40413,"h":17.9,"p":-0.85},{"t":40415,"h":16.7,"p":0.35},{"t":40417,"h":16.8,"p":0.25},{"t":40419,"h":16.9,"p":0.15},{"t":40421,"h":17.6,"p":-0.55},{"t":40423,"h":17.3,"p":-0.25},{"t":40425,"h":15.45,"p":1.6},{"t":40427,"h":17.2,"p":-0.15},{"t":40429,"h":16.6,"p":0.45},{"t":40431,"h":16.4,"p":0.65},{"t":40433,"h":16.6,"p":0.45},{"t":40435,"h":16.8,"p":0.25},{"t":40437,"h":17.2,"p":-0.15},{"t":40439,"h":16.5,"p":0.55},{"t":40441,"h":17.6,"p":-0.55},{"t":40443,"h":17.6,"p":-0.55},{"t":40445,"h":16.5,"p":0.55},{"t":40447,"h":17.8,"p":-0.75},{"t":40449,"h":16.2,"p":0.85},
{"t":40451,"h":16.4,"p":0.7},{"t":40453,"h":16.3,"p":0.8},{"t":40455,"h":17.25,"p":-0.15},{"t":40457,"h":17.2,"p":-0.1},{"t":40459,"h":18.25,"p":-1.15},{"t":40461,"h":16.5,"p":0.6},{"t":40463,"h":17.8,"p":-0.7},{"t":40465,"h":17.0,"p":0.1},{"t":40467,"h":18.0,"p":-0.9},{"t":40469,"h":17.4,"p":-0.3},{"t":40471,"h":16.9,"p":0.2},{"t":40473,"h":17.4,"p":-0.3},{"t":40475,"h":17.1,"p":0.0},{"t":40477,"h":17.8,"p":-0.7},{"t":40479,"h":17.5,"p":-0.4},{"t":40481,"h":17.4,"p":-0.3},{"t":40483,"h":16.2,"p":0.9},{"t":40485,"h":17.1,"p":0.0},{"t":40487,"h":17.3,"p":-0.2},{"t":40489,"h":16.6,"p":0.5},{"t":40491,"h":18.05,"p":-0.95},{"t":40493,"h":16.5,"p":0.6},{"t":40495,"h":15.9,"p":1.2},{"t":40497,"h":16.3,"p":0.8},{"t":40499,"h":16.6,"p":0.5},{"t":40501,"h":17.3,"p":-0.2},{"t":40503,"h":17.5,"p":-0.4},{"t":40505,"h":16.9,"p":0.2},{"t":40507,"h":17.7,"p":-0.6},{"t":40509,"h":17.4,"p":-0.3},
{"t":40511,"h":17.7,"p":-0.5},{"t":40513,"h":18.2,"p":-1.0},{"t":40515,"h":16.9,"p":0.3},{"t":40517,"h":17.9,"p":-0.7},{"t":40519,"h":17.6,"p":-0.4},{"t":40521,"h":17.5,"p":-0.3},{"t":40523,"h":17.7,"p":-0.5},{"t":40525,"h":16.9,"p":0.3},{"t":40527,"h":17.2,"p":0.0},{"t":40529,"h":17.3,"p":-0.1},{"t":40531,"h":16.5,"p":0.7},{"t":40533,"h":16.5,"p":0.7},{"t":40535,"h":16.7,"p":0.5},{"t":40537,"h":17.5,"p":-0.3},{"t":40539,"h":17.7,"p":-0.5},{"t":40541,"h":16.7,"p":0.5},{"t":40543,"h":18.7,"p":-1.5},{"t":40545,"h":16.6,"p":0.6},{"t":40547,"h":16.5,"p":0.7},{"t":40549,"h":17.0,"p":0.2},{"t":40551,"h":16.6,"p":0.6},{"t":40553,"h":18.1,"p":-0.9},{"t":40555,"h":17.4,"p":-0.2},{"t":40557,"h":17.5,"p":-0.3},{"t":40559,"h":16.5,"p":0.7},{"t":40561,"h":16.6,"p":0.6},{"t":40563,"h":17.4,"p":-0.2},{"t":40565,"h":16.4,"p":0.8},{"t":40567,"h":17.5,"p":-0.3},{"t":40569,"h":16.3,"p":0.9},{"t":40571,"h":17.8,"p":-0.6},{"t":40573,"h":17.9,"p":-0.7},{"t":40575,"h":16.4,"p":0.8},{"t":40577,"h":17.3,"p":-0.1},{"t":40579,"h":17.3,"p":-0.1},{"t":40581,"h":18.0,"p":-0.8},{"t":40583,"h":16.3,"p":0.9},{"t":40585,"h":16.7,"p":0.5},{"t":40587,"h":16.8,"p":0.4},{"t":40589,"h":17.0,"p":0.2},{"t":40591,"h":16.6,"p":0.6},{"t":40593,"h":17.2,"p":0.0},{"t":40595,"h":17.4,"p":-0.2},{"t":40597,"h":16.9,"p":0.3},{"t":40599,"h":16.8,"p":0.4}
],
"p3":[
{"t":40001,"h":16.9,"p":-0.3},{"t":40006,"h":17.1,"p":-0.5},{"t":40011,"h":16.55,"p":0.05},{"t":40016,"h":16.5,"p":0.15},{"t":40021,"h":15.75,"p":0.85},{"t":40026,"h":16.9,"p":-0.25},{"t":40031,"h":16.2,"p":0.45},{"t":40036,"h":16.85,"p":-0.2},{"t":40041,"h":17.1,"p":-0.45},{"t":40046,"h":16.45,"p":0.2},
{"t":40051,"h":16.4,"p":0.25},{"t":40056,"h":16.3,"p":0.4},{"t":40061,"h":16.7,"p":-0.05},{"t":40066,"h":16.2,"p":0.5},{"t":40071,"h":17.2,"p":-0.5},{"t":40076,"h":17.3,"p":-0.6},{"t":40081,"h":16.35,"p":0.35},{"t":40086,"h":16.55,"p":0.15},{"t":40091,"h":16.55,"p":0.15},{"t":40096,"h":16.05,"p":0.65},
{"t":40101,"h":16.5,"p":0.2},{"t":40106,"h":16.85,"p":-0.15},{"t":40111,"h":17.8,"p":-1.1},{"t":40116,"h":16.15,"p":0.6},{"t":40121,"h":16.55,"p":0.2},{"t":40126,"h":16.4,"p":0.35},{"t":40131,"h":16.65,"p":0.1},{"t":40136,"h":16.85,"p":-0.1},{"t":40141,"h":17.0,"p":-0.3},{"t":40146,"h":16.0,"p":0.75},
{"t":40151,"h":17.4,"p":-0.6},{"t":40156,"h":17.2,"p":-0.4},{"t":40161,"h":17.05,"p":-0.3},{"t":40166,"h":17.4,"p":-0.6},{"t":40171,"h":16.7,"p":0.1},{"t":40176,"h":17.15,"p":-0.4},{"t":40181,"h":16.9,"p":-0.1},{"t":40186,"h":17.35,"p":-0.55},{"t":40191,"h":17.1,"p":-0.3},{"t":40196,"h":16.3,"p":0.5},
{"t":40201,"h":16.35,"p":0.45},{"t":40206,"h":17.55,"p":-0.75},{"t":40211,"h":16.5,"p":0.3},{"t":40216,"h":16.65,"p":0.2},{"t":40221,"h":16.9,"p":-0.05},{"t":40226,"h":16.2,"p":0.65},{"t":40231,"h":16.35,"p":0.5},{"t":40236,"h":17.1,"p":-0.25},{"t":40241,"h":17.05,"p":-0.2},{"t":40246,"h":17.4,"p":-0.5},
{"t":40251,"h":17.0,"p":-0.15},{"t":40256,"h":17.2,"p":-0.3},{"t":40261,"h":16.9,"p":-0.05},{"t":40266,"h":16.85,"p":0.0},{"t":40271,"h":16.5,"p":0.4},{"t":40276,"h":16.7,"p":0.2},{"t":40281,"h":16.75,"p":0.15},{"t":40286,"h":15.8,"p":1.1},{"t":40291,"h":16.5,"p":0.45},{"t":40296,"h":17.2,"p":-0.3},
{"t":40301,"h":16.85,"p":0.1},{"t":40306,"h":17.65,"p":-0.7},{"t":40311,"h":16.3,"p":0.6},{"t":40316,"h":17.6,"p":-0.65},{"t":40321,"h":16.5,"p":0.5},{"t":40326,"h":16.6,"p":0.4},{"t":40331,"h":17.45,"p":-0.5},{"t":40336,"h":17.25,"p":-0.3},{"t":40341,"h":17.6,"p":-0.6},{"t":40346,"h":17.35,"p":-0.35},
{"t":40351,"h":16.7,"p":0.3},{"t":40356,"h":16.45,"p":0.55},{"t":40361,"h":17.6,"p":-0.65},{"t":40366,"h":17.45,"p":-0.5},{"t":40371,"h":17.95,"p":-0.95},{"t":40376,"h":17.5,"p":-0.5},{"t":40381,"h":16.9,"p":0.1},{"t":40386,"h":17.4,"p":-0.35},{"t":40391,"h":16.75,"p":0.25},{"t":40396,"h":17.3,"p":-0.3},
{"t":40401,"h":16.85,"p":0.2},{"t":40406,"h":16.7,"p":0.35},{"t":40411,"h":17.6,"p":-0.6},{"t":40416,"h":17.0,"p":0.05},{"t":40421,"h":16.9,"p":0.15},{"t":40426,"h":17.3,"p":-0.3},{"t":40431,"h":16.75,"p":0.35},{"t":40436,"h":17.25,"p":-0.2},{"t":40441,"h":17.6,"p":-0.55},{"t":40446,"h":16.35,"p":0.7},
{"t":40451,"h":17.1,"p":-0.05},{"t":40456,"h":17.7,"p":-0.6},{"t":40461,"h":17.25,"p":-0.2},{"t":40466,"h":17.1,"p":0.0},{"t":40471,"h":17.85,"p":-0.7},{"t":40476,"h":16.15,"p":0.95},{"t":40481,"h":17.1,"p":0.0},{"t":40486,"h":17.0,"p":0.1},{"t":40491,"h":16.95,"p":0.2},{"t":40496,"h":18.35,"p":-1.2},
{"t":40501,"h":17.25,"p":-0.1},{"t":40506,"h":16.55,"p":0.6},{"t":40511,"h":16.95,"p":0.2},{"t":40516,"h":16.95,"p":0.2},{"t":40521,"h":17.1,"p":0.0},{"t":40526,"h":17.0,"p":0.2},{"t":40531,"h":17.0,"p":0.2},{"t":40536,"h":17.0,"p":0.2},{"t":40541,"h":16.7,"p":0.5},{"t":40546,"h":17.0,"p":0.2},
{"t":40551,"h":16.7,"p":0.5},{"t":40556,"h":17.15,"p":0.0},{"t":40561,"h":16.65,"p":0.55},{"t":40566,"h":17.85,"p":-0.65},{"t":40571,"h":17.75,"p":-0.55},{"t":40576,"h":17.55,"p":-0.35},{"t":40581,"h":17.75,"p":-0.5},{"t":40586,"h":17.15,"p":0.05},{"t":40591,"h":16.95,"p":0.3},{"t":40596,"h":16.7,"p":0.5}
],
"p4":[
{"t":40001,"h":16.35,"p":0.25},{"t":40011,"h":16.8,"p":-0.2},{"t":40021,"h":16.55,"p":0.1},{"t":40031,"h":17.45,"p":-0.8},{"t":40041,"h":17.0,"p":-0.35},{"t":40051,"h":16.25,"p":0.45},{"t":40061,"h":16.9,"p":-0.2},{"t":40071,"h":16.8,"p":-0.1},{"t":40081,"h":16.25,"p":0.5},{"t":40091,"h":16.55,"p":0.2},
{"t":40101,"h":16.4,"p":0.35},{"t":40111,"h":17.25,"p":-0.5},{"t":40121,"h":17.0,"p":-0.25},{"t":40131,"h":16.9,"p":-0.15},{"t":40141,"h":16.45,"p":0.35},{"t":40151,"h":16.35,"p":0.45},{"t":40161,"h":17.0,"p":-0.2},{"t":40171,"h":16.6,"p":0.2},{"t":40181,"h":16.75,"p":0.1},{"t":40191,"h":16.55,"p":0.3},
{"t":40201,"h":16.65,"p":0.2},{"t":40211,"h":17.2,"p":-0.35},{"t":40221,"h":16.95,"p":-0.05},{"t":40231,"h":16.45,"p":0.4},{"t":40241,"h":17.2,"p":-0.3},{"t":40251,"h":17.2,"p":-0.3},{"t":40261,"h":17.25,"p":-0.35},{"t":40271,"h":16.8,"p":0.1},{"t":40281,"h":17.15,"p":-0.25},{"t":40291,"h":16.5,"p":0.45},
{"t":40301,"h":17.45,"p":-0.5},{"t":40311,"h":16.65,"p":0.25},{"t":40321,"h":17.3,"p":-0.35},{"t":40331,"h":17.0,"p":-0.05},{"t":40341,"h":16.2,"p":0.75},{"t":40351,"h":17.5,"p":-0.5},{"t":40361,"h":16.75,"p":0.25},{"t":40371,"h":16.65,"p":0.4},{"t":40381,"h":16.65,"p":0.35},{"t":40391,"h":16.85,"p":0.2},
{"t":40401,"h":17.2,"p":-0.2},{"t":40411,"h":16.7,"p":0.35},{"t":40421,"h":17.15,"p":-0.05},{"t":40431,"h":17.0,"p":0.1},{"t":40441,"h":17.15,"p":-0.1},{"t":40451,"h":17.55,"p":-0.45},{"t":40461,"h":17.35,"p":-0.25},{"t":40471,"h":17.05,"p":0.1},{"t":40481,"h":17.5,"p":-0.4},{"t":40491,"h":16.9,"p":0.25},
{"t":40501,"h":17.5,"p":-0.35},{"t":40511,"h":17.2,"p":0.0},{"t":40521,"h":17.45,"p":-0.25},{"t":40531,"h":17.55,"p":-0.3},{"t":40541,"h":17.75,"p":-0.5},{"t":40551,"h":17.6,"p":-0.35},{"t":40561,"h":17.15,"p":0.1},{"t":40571,"h":17.05,"p":0.2},{"t":40581,"h":17.6,"p":-0.3},{"t":40591,"h":17.05,"p":0.25}
]
},
"resolve":{"scale":{"fill":"independent","stroke":"independent","shape":"independent","size":"independent"}},
"vconcat":[
{"title":{"text":"Airborne iGNSS-R altimetric precision under different signal processing time.","orient":"bottom","anchor":"start","fontSize":17.5,"fontWeight":"normal","color":"#222222","offset":42,"dx":45},
"spacing":21,
"resolve":{"scale":{"fill":"independent","stroke":"independent","shape":"independent","size":"independent"}},
"vconcat":[
{"spacing":59,"resolve":{"scale":{"fill":"independent","stroke":"independent","shape":"independent","size":"independent"}},
"hconcat":[
{"spacing":-5,"resolve":{"scale":{"fill":"independent","stroke":"independent","shape":"independent","size":"independent"}},
"vconcat":[
{"title":"Tcoh=1 ms, Tincoh=1 s","width":551,"height":158,
"encoding":{"x":{"field":"t","type":"quantitative","scale":{"domain":[40001,40601],"nice":false,"zero":false},"axis":{"values":[40151,40301,40451],"labels":false,"title":null,"minExtent":0,"maxExtent":0}},
"y":{"field":"h","type":"quantitative","scale":{"domain":[14,22],"nice":false,"zero":false},"axis":{"values":[14,16,18,20,22],"title":"Ellipsoidal height (m)"}}},
"layer":[
{"data":{"name":"p1"},"mark":{"type":"point","filled":true,"opacity":1,"strokeWidth":1.5},
"encoding":{"fill":{"datum":"SSHspir","type":"nominal","scale":{"domain":["SSHspir","SSH (FIT)"],"range":["#14c814","#a0309f"]},"legend":{"title":null}},
"shape":{"datum":"SSHspir","type":"nominal","scale":{"domain":["SSHspir","SSH (FIT)"],"range":["circle","stroke"]},"legend":{"title":null}},
"size":{"datum":"SSHspir","type":"nominal","scale":{"type":"ordinal","domain":["SSHspir","SSH (FIT)"],"range":[13,300]},"legend":{"title":null}}}},
{"data":{"name":"f1"},"mark":{"type":"line","strokeWidth":2},
"encoding":{"stroke":{"datum":"SSH (FIT)","type":"nominal","scale":{"domain":["SSHspir","SSH (FIT)"],"range":["#14c814","#a0309f"]},"legend":{"title":null}}}}
]},
{"data":{"name":"p1"},"width":551,"height":117,"mark":{"type":"point","filled":true,"color":"#ff0000","size":20,"opacity":1},
"encoding":{"x":{"field":"t","type":"quantitative","scale":{"domain":[40001,40601],"nice":false,"zero":false},"axis":{"values":[40001,40151,40301,40451],"format":"d","title":"Time (GPS SoD)"}},
"y":{"field":"p","type":"quantitative","scale":{"domain":[-3,3],"nice":false,"zero":false},"axis":{"values":[-2,0,2],"labelExpr":"datum.value < 0 ? '-' + (-datum.value) : '' + datum.value","title":"Precision (m)"}}}}
]},
{"spacing":-5,"resolve":{"scale":{"fill":"independent","stroke":"independent","shape":"independent","size":"independent"}},
"vconcat":[
{"title":"Tcoh=2 ms, Tincoh=1 s","width":551,"height":158,
"encoding":{"x":{"field":"t","type":"quantitative","scale":{"domain":[40001,40601],"nice":false,"zero":false},"axis":{"values":[40151,40301,40451],"labels":false,"title":null,"minExtent":0,"maxExtent":0}},
"y":{"field":"h","type":"quantitative","scale":{"domain":[14,22],"nice":false,"zero":false},"axis":{"values":[14,16,18,20,22],"title":"Ellipsoidal height (m)"}}},
"layer":[
{"data":{"name":"p2"},"mark":{"type":"point","filled":true,"opacity":1,"strokeWidth":1.5},
"encoding":{"fill":{"datum":"SSHspir","type":"nominal","scale":{"domain":["SSHspir","SSH (FIT)"],"range":["#14c814","#a0309f"]},"legend":{"title":null}},
"shape":{"datum":"SSHspir","type":"nominal","scale":{"domain":["SSHspir","SSH (FIT)"],"range":["circle","stroke"]},"legend":{"title":null}},
"size":{"datum":"SSHspir","type":"nominal","scale":{"type":"ordinal","domain":["SSHspir","SSH (FIT)"],"range":[13,300]},"legend":{"title":null}}}},
{"data":{"name":"f2"},"mark":{"type":"line","strokeWidth":2},
"encoding":{"stroke":{"datum":"SSH (FIT)","type":"nominal","scale":{"domain":["SSHspir","SSH (FIT)"],"range":["#14c814","#a0309f"]},"legend":{"title":null}}}}
]},
{"data":{"name":"p2"},"width":551,"height":117,"mark":{"type":"point","filled":true,"color":"#ff0000","size":20,"opacity":1},
"encoding":{"x":{"field":"t","type":"quantitative","scale":{"domain":[40001,40601],"nice":false,"zero":false},"axis":{"values":[40001,40151,40301,40451],"format":"d","title":"Time (GPS SoD)"}},
"y":{"field":"p","type":"quantitative","scale":{"domain":[-3,3],"nice":false,"zero":false},"axis":{"values":[-2,0,2],"labelExpr":"datum.value < 0 ? '-' + (-datum.value) : '' + datum.value","title":"Precision (m)"}}}}
]}
]},
{"spacing":59,"resolve":{"scale":{"fill":"independent","stroke":"independent","shape":"independent","size":"independent"}},
"hconcat":[
{"spacing":-5,"resolve":{"scale":{"fill":"independent","stroke":"independent","shape":"independent","size":"independent"}},
"vconcat":[
{"title":"Tcoh=5 ms, Tincoh=1 s","width":551,"height":157,
"encoding":{"x":{"field":"t","type":"quantitative","scale":{"domain":[40001,40601],"nice":false,"zero":false},"axis":{"values":[40151,40301,40451],"labels":false,"title":null,"minExtent":0,"maxExtent":0}},
"y":{"field":"h","type":"quantitative","scale":{"domain":[14,20],"nice":false,"zero":false},"axis":{"values":[14,16,18,20],"title":"Ellipsoidal height (m)"}}},
"layer":[
{"data":{"name":"p3"},"mark":{"type":"point","filled":true,"opacity":1,"strokeWidth":1.5},
"encoding":{"fill":{"datum":"SSHspir","type":"nominal","scale":{"domain":["SSHspir","SSH (FIT)"],"range":["#14c814","#a0309f"]},"legend":{"title":null}},
"shape":{"datum":"SSHspir","type":"nominal","scale":{"domain":["SSHspir","SSH (FIT)"],"range":["circle","stroke"]},"legend":{"title":null}},
"size":{"datum":"SSHspir","type":"nominal","scale":{"type":"ordinal","domain":["SSHspir","SSH (FIT)"],"range":[13,300]},"legend":{"title":null}}}},
{"data":{"name":"f3"},"mark":{"type":"line","strokeWidth":2},
"encoding":{"stroke":{"datum":"SSH (FIT)","type":"nominal","scale":{"domain":["SSHspir","SSH (FIT)"],"range":["#14c814","#a0309f"]},"legend":{"title":null}}}}
]},
{"data":{"name":"p3"},"width":551,"height":118,"mark":{"type":"point","filled":true,"color":"#ff0000","size":20,"opacity":1},
"encoding":{"x":{"field":"t","type":"quantitative","scale":{"domain":[40001,40601],"nice":false,"zero":false},"axis":{"values":[40001,40151,40301,40451],"format":"d","title":"Time (GPS SoD)"}},
"y":{"field":"p","type":"quantitative","scale":{"domain":[-3,3],"nice":false,"zero":false},"axis":{"values":[-2,0,2],"labelExpr":"datum.value < 0 ? '-' + (-datum.value) : '' + datum.value","title":"Precision (m)"}}}}
]},
{"spacing":-5,"resolve":{"scale":{"fill":"independent","stroke":"independent","shape":"independent","size":"independent"}},
"vconcat":[
{"title":"Tcoh=10 ms, Tincoh=1 s","width":551,"height":157,
"encoding":{"x":{"field":"t","type":"quantitative","scale":{"domain":[40001,40601],"nice":false,"zero":false},"axis":{"values":[40151,40301,40451],"labels":false,"title":null,"minExtent":0,"maxExtent":0}},
"y":{"field":"h","type":"quantitative","scale":{"domain":[14,20],"nice":false,"zero":false},"axis":{"values":[14,16,18,20],"title":"Ellipsoidal height (m)"}}},
"layer":[
{"data":{"name":"p4"},"mark":{"type":"point","filled":true,"opacity":1,"strokeWidth":1.5},
"encoding":{"fill":{"datum":"SSHspir","type":"nominal","scale":{"domain":["SSHspir","SSH (FIT)"],"range":["#14c814","#a0309f"]},"legend":{"title":null}},
"shape":{"datum":"SSHspir","type":"nominal","scale":{"domain":["SSHspir","SSH (FIT)"],"range":["circle","stroke"]},"legend":{"title":null}},
"size":{"datum":"SSHspir","type":"nominal","scale":{"type":"ordinal","domain":["SSHspir","SSH (FIT)"],"range":[13,300]},"legend":{"title":null}}}},
{"data":{"name":"f4"},"mark":{"type":"line","strokeWidth":2},
"encoding":{"stroke":{"datum":"SSH (FIT)","type":"nominal","scale":{"domain":["SSHspir","SSH (FIT)"],"range":["#14c814","#a0309f"]},"legend":{"title":null}}}}
]},
{"data":{"name":"p4"},"width":551,"height":118,"mark":{"type":"point","filled":true,"color":"#ff0000","size":20,"opacity":1},
"encoding":{"x":{"field":"t","type":"quantitative","scale":{"domain":[40001,40601],"nice":false,"zero":false},"axis":{"values":[40001,40151,40301,40451],"format":"d","title":"Time (GPS SoD)"}},
"y":{"field":"p","type":"quantitative","scale":{"domain":[-3,3],"nice":false,"zero":false},"axis":{"values":[-2,0,2],"labelExpr":"datum.value < 0 ? '-' + (-datum.value) : '' + datum.value","title":"Precision (m)"}}}}
]}
]}
]}
]
}
